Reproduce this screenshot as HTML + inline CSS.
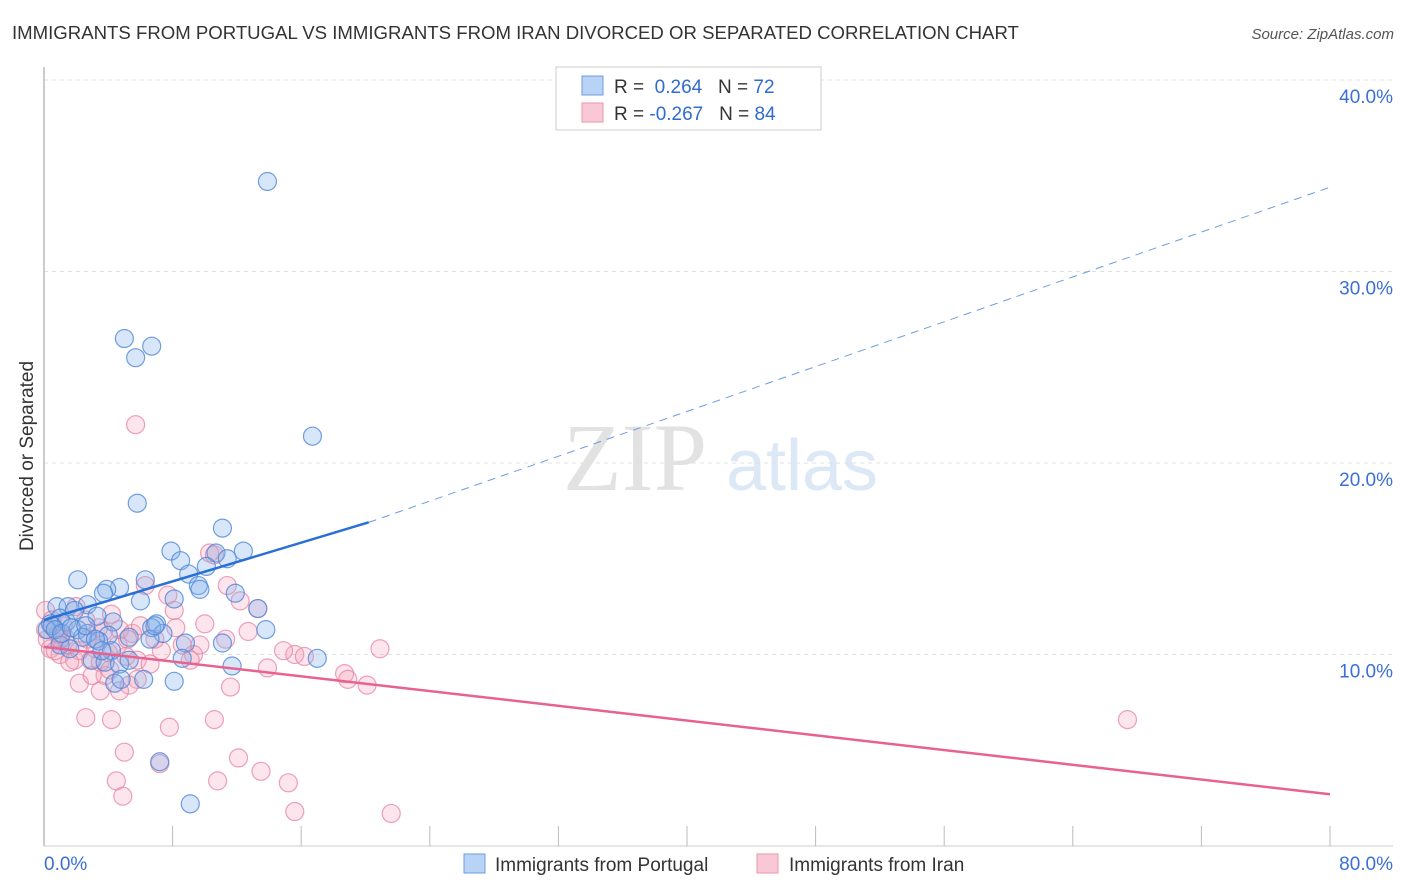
<!DOCTYPE html>
<html><head><meta charset="utf-8"><style>
body{margin:0;background:#fff;font-family:"Liberation Sans",sans-serif}
</style></head><body>
<svg id="chart" width="1406" height="892" xmlns="http://www.w3.org/2000/svg" style="display:block">
<text x="12" y="39" font-size="18.6" fill="#333">IMMIGRANTS FROM PORTUGAL VS IMMIGRANTS FROM IRAN DIVORCED OR SEPARATED CORRELATION CHART</text>
<text x="1394" y="39" font-size="15" fill="#555" font-style="italic" text-anchor="end">Source: ZipAtlas.com</text>
<text transform="translate(33,456) rotate(-90)" font-size="19" fill="#333" text-anchor="middle">Divorced or Separated</text>
<g>
<text x="635" y="490" font-size="96" fill="#e2e2e2" font-family="Liberation Serif,serif" text-anchor="middle">ZIP</text>
<text x="802" y="490" font-size="72" fill="#dce8f6" text-anchor="middle">atlas</text>
</g>
<g id="grid"></g><g id="axes"></g><g id="pts"></g><g id="lines"></g>
<g>
<rect x="556" y="67" width="265" height="63" fill="#fff" stroke="#ccc"/>
<rect x="582" y="76" width="21" height="19" fill="#b8d3f5" stroke="#6d9de0"/>
<rect x="582" y="103" width="21" height="19" fill="#f9c8d6" stroke="#ec94ad"/>
<text x="614" y="93" font-size="19" fill="#333">R = <tspan fill="#2f6bd1">&#160;0.264</tspan>&#160;&#160;&#160;N = <tspan fill="#2f6bd1">72</tspan></text>
<text x="614" y="120" font-size="19" fill="#333">R = <tspan fill="#2f6bd1">-0.267</tspan>&#160;&#160;&#160;N = <tspan fill="#2f6bd1">84</tspan></text>
</g>
<g>
<rect x="464" y="854" width="21" height="19" fill="#b8d3f5" stroke="#6d9de0"/>
<text x="495" y="871" font-size="19" fill="#333">Immigrants from Portugal</text>
<rect x="757" y="854" width="21" height="19" fill="#f9c8d6" stroke="#ec94ad"/>
<text x="789" y="871" font-size="19" fill="#333">Immigrants from Iran</text>
</g>
</svg>
<script>
const yTicks=[10,20,30,40];
const yTickLabels=["10.0%","20.0%","30.0%","40.0%"];
const xTickVals=[0,8,16,24,32,40,48,56,64,72,80];
const xEndLabels=["0.0%","80.0%"];
const blueX=[13.9,5.0,6.7,5.7,16.7,5.8,11.1,7.9,12.4,10.7,11.4,8.5,10.1,9.0,2.1,6.3,9.6,4.7,3.9,3.7,11.9,8.1,2.7,0.8,1.5,13.3,3.3,1.0,1.4,4.3,0.4,7.0,6.7,0.2,13.8,2.1,2.7,7.4,4.0,5.3,2.4,6.6,3.4,8.8,11.1,1.0,1.6,4.2,17.0,8.6,3.0,3.8,4.7,11.7,6.2,8.1,4.4,4.8,7.2,9.1,0.5,0.7,1.1,1.7,2.6,3.2,3.6,5.3,9.7,6.9,6.0,1.9];
const blueY=[34.7,26.5,26.1,25.5,21.4,17.9,16.6,15.4,15.4,15.3,15.0,14.9,14.6,14.2,13.9,13.9,13.6,13.5,13.4,13.2,13.2,12.9,12.6,12.5,12.5,12.4,12.0,11.9,11.7,11.7,11.6,11.6,11.4,11.3,11.3,11.3,11.1,11.1,11.0,10.9,10.9,10.8,10.7,10.6,10.6,10.5,10.3,10.2,9.8,9.8,9.7,9.6,9.5,9.4,8.7,8.6,8.5,8.7,4.4,2.2,11.5,11.3,11.1,11.4,11.5,10.8,10.2,9.7,13.4,11.5,12.8,12.3];
const pinkX=[5.7,10.3,10.6,6.3,11.4,7.7,13.3,2.0,4.2,10.0,8.2,4.7,3.7,5.5,0.9,1.3,2.7,8.6,12.7,15.6,14.9,20.9,9.7,0.4,1.0,1.9,2.9,3.5,5.1,13.9,18.7,18.9,20.1,2.2,11.6,5.8,3.8,2.6,4.2,7.8,10.6,5.0,12.1,7.2,13.5,4.5,10.8,15.2,4.9,15.6,21.6,67.4,0.1,0.2,0.7,1.5,2.2,3.2,4.0,4.6,5.2,5.8,6.6,7.3,9.3,4.1,3.0,5.3,1.6,0.5,1.2,2.6,3.4,6.0,6.9,9.1,11.3,8.1,12.2,16.2,3.5,4.7,1.0,0.1];
const pinkY=[22.0,15.3,15.2,13.6,13.6,13.1,12.4,12.5,12.1,11.6,11.4,11.3,11.2,11.1,11.1,10.9,10.8,10.5,11.2,10.0,10.2,10.3,10.5,10.3,10.0,9.7,9.7,9.6,9.9,9.3,9.0,8.7,8.4,8.5,8.3,8.7,8.9,6.7,6.6,6.2,6.6,4.9,4.6,4.3,3.9,3.4,3.4,3.3,2.6,1.8,1.7,6.6,12.3,10.8,10.2,10.5,10.2,10.3,10.1,10.5,10.8,9.7,9.5,10.2,10.0,9.2,8.9,8.4,9.6,11.8,11.5,11.8,11.4,11.5,10.8,9.7,10.8,12.3,12.8,9.9,8.1,8.1,10.8,11.3];
const blueTrend=[[0,11.8],[20.2,16.9],[80,34.4]];
const pinkTrend=[[0,10.4],[80,2.7]];
const NS="http://www.w3.org/2000/svg";
function sx(v){return 44+v*(1286/80);}
function sy(v){return 846-v*19.15;}
function mk(tag,attrs,parent){const e=document.createElementNS(NS,tag);for(const k in attrs)e.setAttribute(k,attrs[k]);document.getElementById(parent).appendChild(e);return e;}
yTicks.forEach((t,i)=>{
 const l=mk('line',{x1:44,x2:1393,y1:sy(t),y2:sy(t),stroke:'#e0e0e0','stroke-dasharray':'4,4'},'grid');
 
 
 const tx=mk('text',{x:1393,y:sy(t)+23,'font-size':19,fill:'#3b6fd4','text-anchor':'end'},'grid');
 tx.textContent=yTickLabels[i];
 
 
});
const ya=mk('line',{x1:44,x2:44,y1:67,y2:846,stroke:'#bbb','stroke-width':1.5},'axes');


const xa=mk('line',{x1:44,x2:1393,y1:846,y2:846,stroke:'#ccc'},'axes');


xTickVals.forEach(t=>{
 const l=mk('line',{x1:sx(t),x2:sx(t),y1:826,y2:846,stroke:'#bbb'},'axes');
 
 
});
[[0,'start'],[80,'end']].forEach((p,i)=>{
 const tx=mk('text',{x:i?1393:44,y:870,'font-size':19,fill:'#3b6fd4','text-anchor':p[1]},'axes');
 tx.textContent=xEndLabels[i];
 
 
});
pinkX.forEach((x,i)=>{
 const c=mk('circle',{cx:sx(x),cy:sy(pinkY[i]),r:9,fill:'rgba(244,160,188,0.28)',stroke:'rgba(232,130,160,0.75)','stroke-width':1.2},'pts');
 
 
});
blueX.forEach((x,i)=>{
 const c=mk('circle',{cx:sx(x),cy:sy(blueY[i]),r:9,fill:'rgba(130,178,235,0.32)',stroke:'rgba(80,135,215,0.8)','stroke-width':1.2},'pts');
 
 
});
const b1=mk('line',{x1:sx(blueTrend[0][0]),y1:sy(blueTrend[0][1]),x2:sx(blueTrend[1][0]),y2:sy(blueTrend[1][1]),stroke:'#2a6fd6','stroke-width':2.5},'lines');


const b2=mk('line',{x1:sx(blueTrend[1][0]),y1:sy(blueTrend[1][1]),x2:sx(blueTrend[2][0]),y2:sy(blueTrend[2][1]),stroke:'#6d9de0','stroke-width':1,'stroke-dasharray':'8,6'},'lines');


const p1=mk('line',{x1:sx(pinkTrend[0][0]),y1:sy(pinkTrend[0][1]),x2:sx(pinkTrend[1][0]),y2:sy(pinkTrend[1][1]),stroke:'#e8628f','stroke-width':2.5},'lines');


</script>
</body></html>
